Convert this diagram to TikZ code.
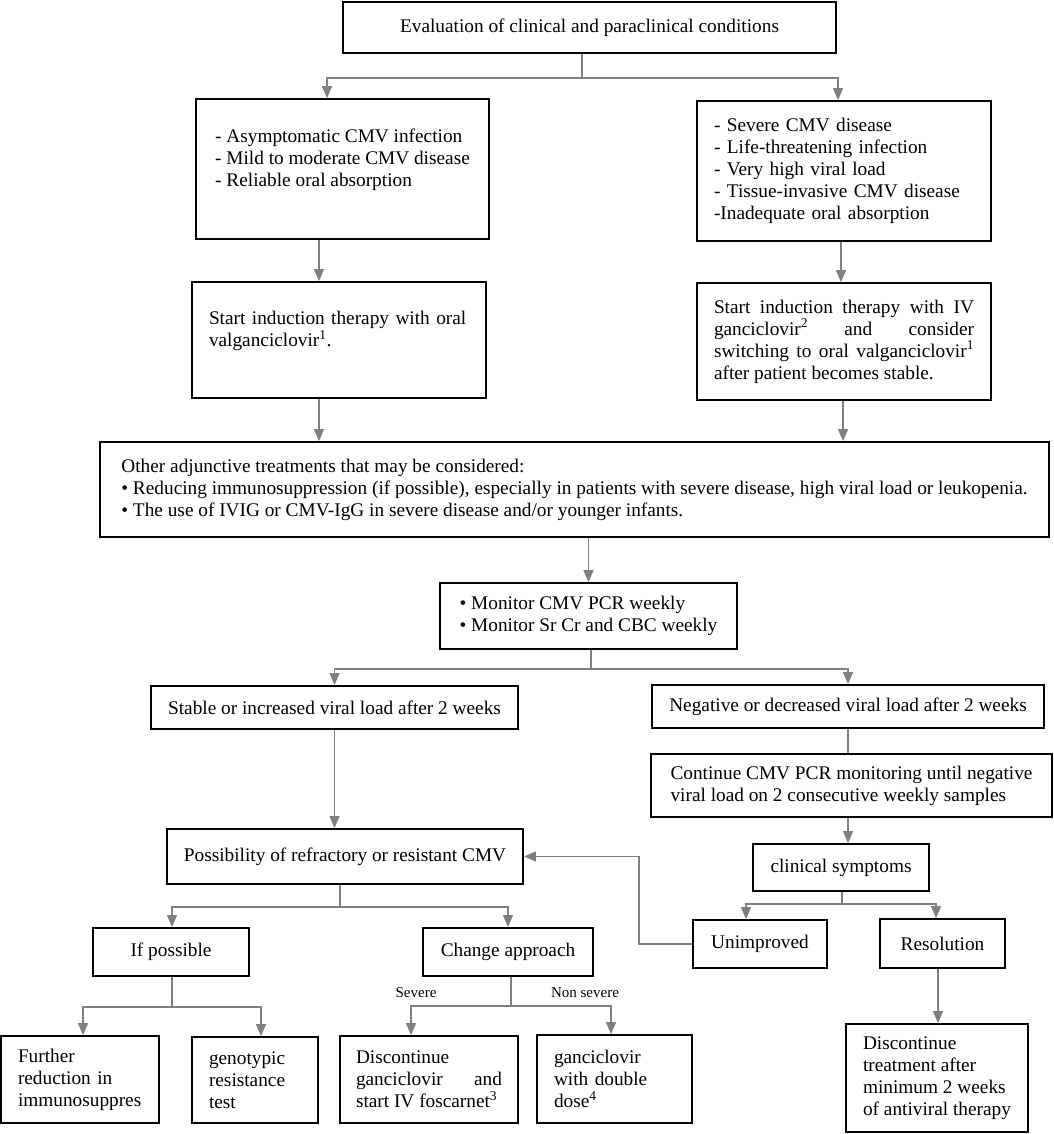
\documentclass[tikz,border=0pt]{standalone}
\usepackage{fontspec}
\setmainfont{Liberation Serif}
\usepackage{xcolor}
\usetikzlibrary{arrows.meta,positioning,calc}
\definecolor{linkgray}{RGB}{128,128,128}

\begin{document}
\begin{tikzpicture}[x=1pt, y=-1pt,
    box/.style={draw, line width=1.8pt, inner xsep=17pt, inner ysep=0pt,
                font=\fontsize{19.3}{22}\selectfont},
    arr/.style={draw=linkgray, line width=1.3pt, -{Triangle[length=12pt,width=10pt]}},
    lnk/.style={draw=linkgray, line width=1.3pt},
    lbl/.style={font=\fontsize{15}{18}\selectfont, inner sep=1pt}]

    \useasboundingbox (0,0) rectangle (1053,1134);

    % Nodes
    \node[box, minimum width=493pt, minimum height=51pt] (eval) at (589.5,27.5) {Evaluation of clinical and paraclinical conditions};
    \node[box, minimum width=293pt, minimum height=140pt, align=left] (mild) at (342.5,169) {- Asymptomatic CMV infection\\- Mild to moderate CMV disease\\- Reliable oral absorption\\ \mbox{}};
    \node[box, minimum height=140pt, text width=260pt, align=left] (severe) at (844,171) {- Severe CMV disease\\- Life-threatening infection\\- Very high viral load\\- Tissue-invasive CMV disease\\-Inadequate oral absorption};
    \node[box, minimum height=116pt, text width=260pt, align=left] (oralInd) at (339,340) {Start induction therapy with oral\\valganciclovir\textsuperscript{1}.\\ \mbox{}};
    \node[box, minimum height=117pt, text width=260pt, align=justify] (ivInd) at (844,341.5) {Start induction therapy with IV\linebreak ganciclovir\textsuperscript{2} and consider\linebreak switching to oral valganciclovir\textsuperscript{1}\linebreak after patient becomes stable.};
    \node[box, minimum width=949pt, minimum height=95pt, align=left] (adjunct) at (574.5,489.5) {Other adjunctive treatments that may be considered:\\\textbullet{} Reducing immunosuppression (if possible), especially in patients with severe disease, high viral load or leukopenia.\\\textbullet{} The use of IVIG or CMV-IgG in severe disease and/or younger infants.};
    \node[box, minimum width=297pt, minimum height=66pt, align=left] (monitor) at (588.5,616) {\textbullet{} Monitor CMV PCR weekly\\\textbullet{} Monitor Sr Cr and CBC weekly};
    \node[box, minimum width=367pt, minimum height=43pt] (stable) at (334.5,707.5) {Stable or increased viral load after 2 weeks};
    \node[box, minimum width=392pt, minimum height=43pt] (negative) at (848,706.5) {Negative or decreased viral load after 2 weeks};
    \node[box, minimum width=401pt, minimum height=63pt, align=left] (contPCR) at (851.5,785.5) {Continue CMV PCR monitoring until negative\\viral load on 2 consecutive weekly samples};
    \node[box, minimum width=356pt, minimum height=55pt] (refract) at (345,856.5) {Possibility of refractory or resistant CMV};
    \node[box, minimum width=176pt, minimum height=47pt] (symptoms) at (841,867.5) {clinical symptoms};
    \node[box, minimum width=134pt, minimum height=48pt] (unimp) at (760,944) {Unimproved};
    \node[box, minimum width=125pt, minimum height=49pt] (resol) at (942.5,943.5) {Resolution};
    \node[box, minimum width=156pt, minimum height=48pt] (ifPos) at (171,952) {If possible};
    \node[box, minimum width=170pt, minimum height=48pt] (change) at (508,952) {Change approach};
    \node[box, minimum height=87pt, text width=124pt, align=left] (furtherRed) at (80,1079.5) {Further\\reduction in\\immunosuppres};
    \node[box, minimum height=86pt, text width=92pt, align=left] (genoTest) at (255,1080) {genotypic\\resistance\\test};
    \node[box, inner xsep=16pt, minimum height=87pt, text width=146pt, align=justify] (foscarnet) at (429,1079.5) {Discontinue\linebreak ganciclovir and\linebreak start IV foscarnet\textsuperscript{3}};
    \node[box, minimum height=88pt, text width=121pt, align=left] (doubleDose) at (614.5,1079) {ganciclovir\\with double\\dose\textsuperscript{4}};
    \node[box, minimum width=182pt, minimum height=108pt, align=left] (stopTx) at (937,1078) {Discontinue\\treatment after\\minimum 2 weeks\\of antiviral therapy};

    % Edges
    \draw[arr] ($(eval.south)+(-7.5,0)$) -- ++(0,24) -| ($(mild.north)+(-15.5,0)$);
    \draw[arr] ($(eval.south)+(-7.5,0)$) -- ++(0,24) -| ($(severe.north)+(-6,0)$);
    \draw[arr] ($(mild.south)+(-23.5,0)$) -- ($(oralInd.north)+(-20,0)$);
    \draw[arr] ($(severe.south)+(-3,0)$) -- ($(ivInd.north)+(-3,0)$);
    \draw[arr] ($(oralInd.south)+(-20,0)$) -- ($(adjunct.north)+(-255.5,0)$);
    \draw[arr] ($(ivInd.south)+(-1,0)$) -- ($(adjunct.north)+(268.5,0)$);
    \draw[arr] (adjunct.south -| monitor.north) -- (monitor.north);
    \draw[arr] ($(monitor.south)+(2.5,0)$) -- ++(0,19) -| (stable.north);
    \draw[arr] ($(monitor.south)+(2.5,0)$) -- ++(0,19) -| (negative.north);
    \draw[arr] (stable.south) -- (stable.south |- refract.north);
    \draw[lnk] (negative.south) -- (negative.south |- contPCR.north);
    \draw[arr] (contPCR.south -| negative.south) -- (symptoms.north -| negative.south);
    \draw[arr] ($(symptoms.south)+(1,0)$) -- ++(0,12) -| ($(unimp.north)+(-14,0)$);
    \draw[arr] ($(symptoms.south)+(1,0)$) -- ++(0,12) -| ($(resol.north)+(-6.5,0)$);
    \draw[arr] (unimp.west) -- ++(-53,0) |- (refract.east);
    \draw[arr] ($(refract.south)+(-5,0)$) -- ++(0,22) -| ($(ifPos.north)+(1,0)$);
    \draw[arr] ($(refract.south)+(-5,0)$) -- ++(0,22) -| (change.north);
    \draw[arr] ($(ifPos.south)+(1,0)$) -- ++(0,30) -| ($(furtherRed.north)+(3,0)$);
    \draw[arr] ($(ifPos.south)+(1,0)$) -- ++(0,30) -| ($(genoTest.north)+(6,0)$);
    \draw[arr] ($(change.south)+(3,0)$) -- ++(0,29) -| ($(foscarnet.north)+(-18,0)$);
    \draw[arr] ($(change.south)+(3,0)$) -- ++(0,29) -| ($(doubleDose.north)+(-3.5,0)$);
    \draw[arr] ($(resol.south)+(-4.5,0)$) -- ($(stopTx.north)+(1,0)$);

    % Labels
    \node[lbl] (sevLbl) at (416,993) {Severe};
    \node[lbl] (nonsevLbl) at (585,993) {Non severe};
\end{tikzpicture}
\end{document}
